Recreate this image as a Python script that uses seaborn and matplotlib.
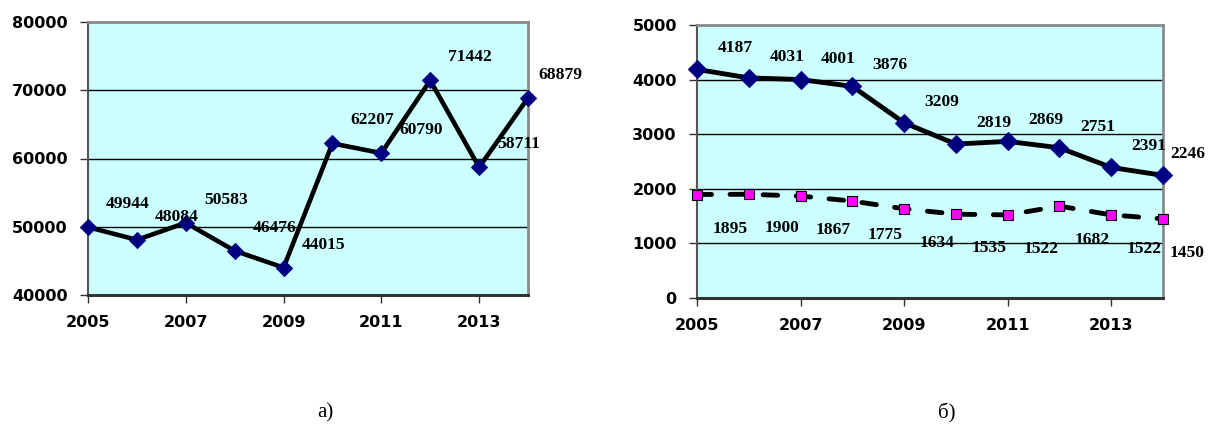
import matplotlib
matplotlib.use("Agg")
import matplotlib.pyplot as plt
import seaborn as sns
import pandas as pd

# Data
years = [2005, 2006, 2007, 2008, 2009, 2010, 2011, 2012, 2013, 2014]
values_a = [49944, 48084, 50583, 46476, 44015, 62207, 60790, 71442, 58711, 68879]
values_b_top = [4187, 4031, 4001, 3876, 3209, 2819, 2869, 2751, 2391, 2246]
values_b_low = [1895, 1900, 1867, 1775, 1634, 1535, 1522, 1682, 1522, 1450]
xticks = [2005, 2007, 2009, 2011, 2013]
yticks_a = [40000, 50000, 60000, 70000, 80000]
yticks_b = [0, 1000, 2000, 3000, 4000, 5000]
panel_labels = ["а)", "б)"]

sns.set_style("white")
plt.rcParams["font.family"] = ["DejaVu Sans"]
plt.rcParams["text.color"] = "black"
plt.rcParams["xtick.labelcolor"] = "black"
plt.rcParams["ytick.labelcolor"] = "black"

BG = "#CCFFFF"
NAVY = "#000080"
MAGENTA = "#FF00FF"

fig = plt.figure(figsize=(12.09, 4.30), dpi=100)
ax_a = fig.add_axes([88 / 1209, 1 - 295 / 430, 440 / 1209, 273 / 430])
ax_b = fig.add_axes([697 / 1209, 1 - 298 / 430, 466 / 1209, 273 / 430])

label_font = dict(family="Liberation Serif", fontweight="bold", fontsize=12.6,
                  color="black")


def style_axes(ax, yticks):
    ax.set_facecolor(BG)
    ax.set_xlim(years[0], years[-1])
    ax.set_ylim(yticks[0], yticks[-1])
    ax.set_xticks(xticks)
    ax.set_yticks(yticks)
    ax.set_xticklabels([str(t) for t in xticks], fontweight="bold", fontsize=11.5,
                       color="black")
    ax.set_yticklabels([str(t) for t in yticks], fontweight="bold", fontsize=11.5,
                       color="black")
    ax.tick_params(axis="both", direction="out", length=5.5, width=1,
                   color="#333333", left=True, bottom=True)
    ax.tick_params(axis="y", pad=9)
    ax.tick_params(axis="x", pad=9)
    for t in yticks[1:-1]:
        ax.axhline(t, color="black", lw=1, zorder=1)
    for side in ("top", "right"):
        ax.spines[side].set_color("#8a8a8a")
        ax.spines[side].set_linewidth(2)
    ax.spines["left"].set_color("#555555")
    ax.spines["left"].set_linewidth(1.5)
    ax.spines["bottom"].set_color("#333333")
    ax.spines["bottom"].set_linewidth(2.2)
    ax.set_xlabel("")
    ax.set_ylabel("")


# Panel a
df_a = pd.DataFrame({"year": years, "value": values_a})
sns.lineplot(data=df_a, x="year", y="value", ax=ax_a, color="black", lw=3.3,
             marker="D", markersize=8, markerfacecolor=NAVY, markeredgecolor=NAVY,
             zorder=3, clip_on=False)
style_axes(ax_a, yticks_a)
for x, v in zip(years, values_a):
    dx = 32 if x == years[-1] else 40
    ax_a.annotate(str(v), (x, v), xytext=(dx, 23), textcoords="offset pixels",
                  ha="center", va="center", zorder=4, annotation_clip=False,
                  **label_font)

# Panel b
df_b = pd.DataFrame({"year": years, "top": values_b_top, "low": values_b_low})
sns.lineplot(data=df_b, x="year", y="top", ax=ax_b, color="black", lw=3.5,
             marker="D", markersize=9, markerfacecolor=NAVY, markeredgecolor=NAVY,
             zorder=3, clip_on=False)
sns.lineplot(data=df_b, x="year", y="low", ax=ax_b, color="black", lw=3.5,
             linestyle=(0, (3.0, 3.8)), dash_capstyle="round",
             marker="s", markersize=7, markerfacecolor=MAGENTA,
             markeredgecolor="black", markeredgewidth=0.8,
             zorder=3, clip_on=False)
style_axes(ax_b, yticks_b)
for x, v in zip(years, values_b_top):
    dx = 25 if x == years[-1] else 38
    ax_b.annotate(str(v), (x, v), xytext=(dx, 21), textcoords="offset pixels",
                  ha="center", va="center", zorder=4, annotation_clip=False,
                  **label_font)
for x, v in zip(years, values_b_low):
    dx = 24 if x == years[-1] else 33
    ax_b.annotate(str(v), (x, v), xytext=(dx, -34), textcoords="offset pixels",
                  ha="center", va="center", zorder=4, annotation_clip=False,
                  **label_font)

# Panel captions
fig.text(325 / 1209, 1 - 413 / 430, panel_labels[0], family="Liberation Serif",
         fontsize=15, ha="center", va="center", color="black")
fig.text(947 / 1209, 1 - 413 / 430, panel_labels[1], family="Liberation Serif",
         fontsize=15, ha="center", va="center", color="black")

fig.savefig("out.png", dpi=100, facecolor="white")
